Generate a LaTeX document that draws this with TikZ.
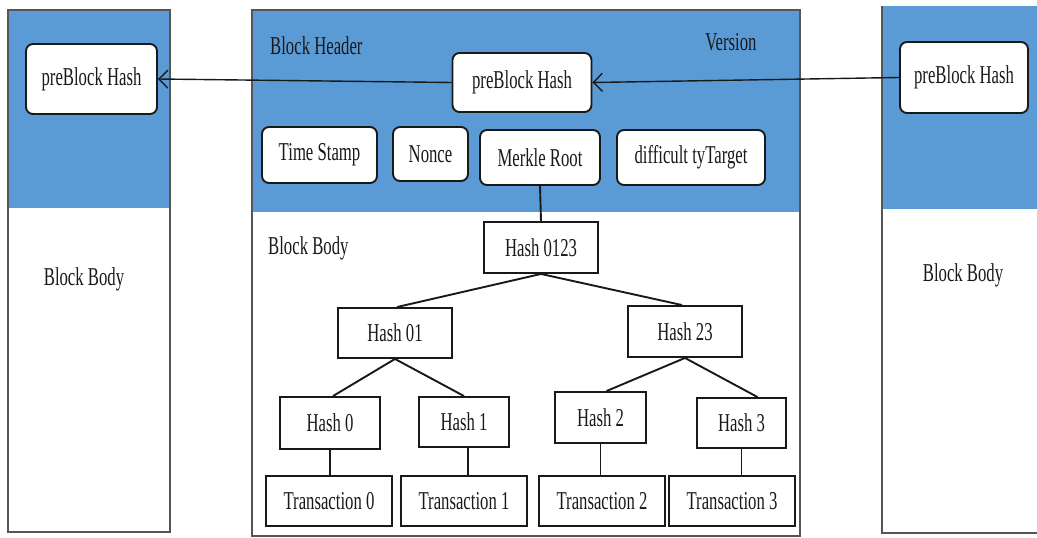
\documentclass[tikz,border=0pt]{standalone}
\usepackage{fontspec}
\newfontfamily\narrowserif{Liberation Serif}[FakeStretch=0.65]
\usetikzlibrary{arrows.meta,calc}
\definecolor{hdrblue}{RGB}{91,155,213}
\definecolor{frameline}{RGB}{85,85,85}
\definecolor{inkline}{RGB}{25,25,25}
\begin{document}
\begin{tikzpicture}[x=1pt,y=-1pt,
  every node/.style={font=\narrowserif\fontsize{25.7}{27}\selectfont, text=inkline},
  blockframe/.style={draw=frameline, line width=1.8pt},
  field/.style={draw=inkline, fill=white, line width=1.9pt, rounded corners=7pt, inner sep=0pt},
  hashbox/.style={draw=inkline, fill=white, line width=1.9pt, inner sep=0pt},
  link/.style={draw=inkline, line width=1.9pt},
  ptr/.style={draw=inkline, line width=1.4pt, -{Straight Barb[length=9pt,width=18pt,line width=1.4pt]}},
  lbl/.style={inner sep=0pt}]
\useasboundingbox (0,0) rectangle (1037,538);
\fill[white] (0,0) rectangle (1037,538);

% left block
\fill[hdrblue] (8,10) rectangle (170,208);
\draw[blockframe] (8,10) rectangle (170,532);
% centre block
\fill[hdrblue] (252,10) rectangle (800,212);
\draw[blockframe] (252,10) rectangle (800,536);
% right block (runs off the right edge)
\fill[hdrblue] (882,6) rectangle (1045,209);
\draw[blockframe] (1045,533) -- (882,533) -- (882,6);

% block labels
\node[lbl, anchor=west] (hdr) at (270,46) {Block Header};
\node[lbl] (ver) at (731,42) {Version};
\node[lbl, anchor=west] (bodyc) at (268,248) {Block Body};
\node[lbl] (bodyl) at (84,279) {Block Body};
\node[lbl] (bodyr) at (963,275) {Block Body};

% header fields
\node[field, minimum width=131pt, minimum height=70pt] (lph) at (91.5,79) {preBlock Hash};
\node[field, minimum width=139pt, minimum height=59pt] (cph) at (522,82.5) {preBlock Hash};
\node[field, minimum width=128pt, minimum height=71pt] (rph) at (964,77.5) {preBlock Hash};
\node[field, minimum width=115pt, minimum height=56pt] (ts) at (319.5,155) {Time Stamp};
\node[field, minimum width=75pt, minimum height=54pt] (nonce) at (430.5,154) {Nonce};
\node[field, minimum width=120pt, minimum height=55pt] (mr) at (540,157.5) {Merkle Root};
\node[field, minimum width=148pt, minimum height=55pt] (diff) at (691,157.5) {difficult tyTarget};

% merkle tree
\node[hashbox, minimum width=114pt, minimum height=51pt] (h0123) at (541,247.5) {Hash 0123};
\node[hashbox, minimum width=114pt, minimum height=50pt] (h01) at (395,333) {Hash 01};
\node[hashbox, minimum width=114pt, minimum height=51pt] (h23) at (685,331.5) {Hash 23};
\node[hashbox, minimum width=100pt, minimum height=52pt] (h0) at (330,423) {Hash 0};
\node[hashbox, minimum width=90pt, minimum height=50pt] (h1) at (464,422) {Hash 1};
\node[hashbox, minimum width=91pt, minimum height=51pt] (h2) at (600.5,417.5) {Hash 2};
\node[hashbox, minimum width=89pt, minimum height=50pt] (h3) at (741.5,423) {Hash 3};
\node[hashbox, minimum width=126pt, minimum height=50pt] (t0) at (329,501) {Transaction 0};
\node[hashbox, minimum width=126pt, minimum height=50pt] (t1) at (464,501) {Transaction 1};
\node[hashbox, minimum width=126pt, minimum height=50pt] (t2) at (602,501) {Transaction 2};
\node[hashbox, minimum width=126pt, minimum height=50pt] (t3) at (732,501) {Transaction 3};

% tree connectors
\draw[link] (mr.south) -- (h0123.north);
\draw[link] (h0123.south) -- ([xshift=2pt]h01.north);
\draw[link] (h0123.south) -- ([xshift=-3pt]h23.north);
\draw[link] (h01.south) -- ([xshift=3pt]h0.north);
\draw[link] (h01.south) -- (h1.north);
\draw[link] (h23.south) -- ([xshift=6pt]h2.north);
\draw[link] (h23.south) -- ([xshift=16pt]h3.north);
\draw[link] (h0.south) -- (h0.south |- t0.north);
\draw[link] ([xshift=4pt]h1.south) -- ([xshift=4pt]h1.south |- t1.north);
\draw[link] (h2.south) -- (h2.south |- t2.north);
\draw[link] (h3.south) -- (h3.south |- t3.north);

% chain pointers
\draw[ptr] (rph.west) -- (cph.east);
\draw[ptr] (cph.west) -- (lph.east);
\end{tikzpicture}
\end{document}
